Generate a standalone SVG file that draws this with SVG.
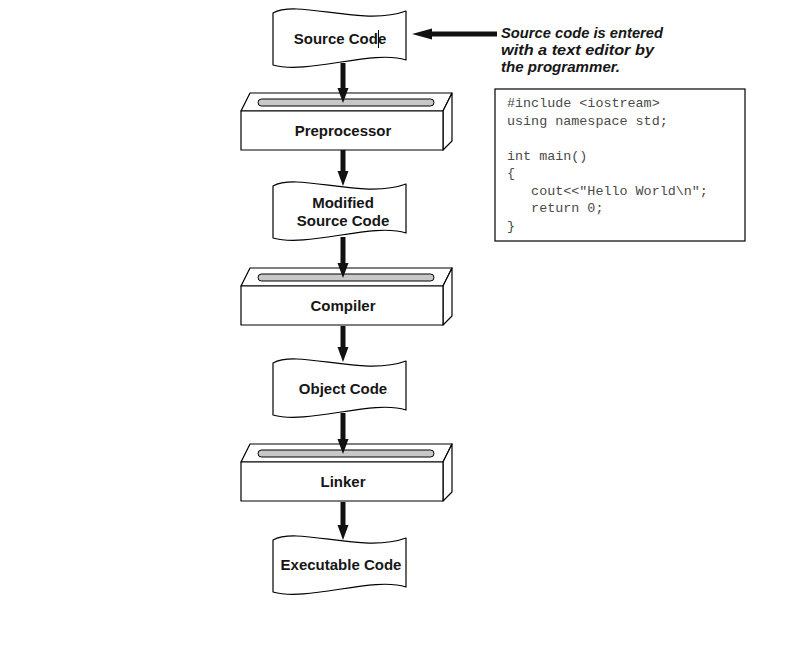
<svg xmlns="http://www.w3.org/2000/svg" width="796" height="645" viewBox="0 0 796 645">
<style>
.shape{fill:#fff;stroke:#000;stroke-width:1.2;stroke-linejoin:round}
.slot{fill:#c8c8c8;stroke:#000;stroke-width:1}
.lbl{font-family:"Liberation Sans",Arial,sans-serif;font-weight:bold;font-size:15px;fill:#161616;text-anchor:middle}
.note{font-family:"Liberation Sans",Arial,sans-serif;font-weight:bold;font-style:italic;font-size:15px;fill:#161616}
.code{font-family:"Liberation Mono","Courier New",monospace;font-size:13.4px;fill:#4a4a4a;white-space:pre}
.conn{stroke:#111;stroke-width:5;fill:none}
</style>
<defs>
<path id="doc" d="M0,4 C25,-10 90,18 133,2 L133,51 C100,40 35,66 0,56 Z"/>
<g id="box">
<polygon class="shape" points="0,18 9,0 211,0 202,18"/>
<polygon class="shape" points="202,18 211,0 211,48 202,57"/>
<rect class="shape" x="0" y="18" width="202" height="39"/>
<rect class="slot" x="17" y="6" width="176" height="7" rx="3.5"/>
</g>
<marker id="ah" markerUnits="userSpaceOnUse" markerWidth="16" markerHeight="12" refX="5" refY="5.5" orient="auto">
<path d="M0,0 L15,5.5 L0,11 Z" fill="#111"/>
</marker>
<marker id="ah2" markerUnits="userSpaceOnUse" markerWidth="22" markerHeight="12" refX="4" refY="5.5" orient="auto">
<path d="M0,0 L20,5.5 L0,11 Z" fill="#111"/>
</marker>
</defs>

<g id="source-code">
<use href="#doc" class="shape" transform="translate(273,9)"/>
<text class="lbl" x="340" y="44">Source Code</text>
<line x1="378.5" y1="30" x2="378.5" y2="48" stroke="#000" stroke-width="1"/>
</g>

<g id="preprocessor">
<use href="#box" transform="translate(241,93)"/>
<text class="lbl" x="343" y="136">Preprocessor</text>
</g>

<g id="modified-source-code">
<use href="#doc" class="shape" transform="translate(273,182)"/>
<text class="lbl" x="343" y="208">Modified</text>
<text class="lbl" x="343" y="226">Source Code</text>
</g>

<g id="compiler">
<use href="#box" transform="translate(241,268)"/>
<text class="lbl" x="343" y="311">Compiler</text>
</g>

<g id="object-code">
<use href="#doc" class="shape" transform="translate(273,359)"/>
<text class="lbl" x="343" y="394">Object Code</text>
</g>

<g id="linker">
<use href="#box" transform="translate(241,444)"/>
<text class="lbl" x="343" y="487">Linker</text>
</g>

<g id="executable-code">
<use href="#doc" class="shape" transform="translate(273,536)"/>
<text class="lbl" x="341" y="570">Executable Code</text>
</g>

<g id="note">
<text class="note" x="501" y="38" textLength="162" lengthAdjust="spacingAndGlyphs">Source code is entered</text>
<text class="note" x="501" y="55" textLength="153" lengthAdjust="spacingAndGlyphs">with a text editor by</text>
<text class="note" x="501" y="72" textLength="119" lengthAdjust="spacingAndGlyphs">the programmer.</text>
</g>

<g id="code-box">
<rect x="495" y="89" width="250" height="152" fill="#fff" stroke="#000" stroke-width="1.2"/>
<text class="code" x="507" y="107">#include &lt;iostream&gt;</text>
<text class="code" x="507" y="124.5">using namespace std;</text>
<text class="code" x="507" y="159.5">int main()</text>
<text class="code" x="507" y="177">{</text>
<text class="code" x="507" y="194.5">   cout&lt;&lt;"Hello World\n";</text>
<text class="code" x="507" y="212">   return 0;</text>
<text class="code" x="507" y="229.5">}</text>
</g>

<g id="connectors">
<line class="conn" x1="343" y1="63" x2="343" y2="93" marker-end="url(#ah)"/>
<line class="conn" x1="343" y1="150" x2="343" y2="176" marker-end="url(#ah)"/>
<line class="conn" x1="343" y1="237" x2="343" y2="268" marker-end="url(#ah)"/>
<line class="conn" x1="343" y1="326" x2="343" y2="352" marker-end="url(#ah)"/>
<line class="conn" x1="343" y1="413" x2="343" y2="444" marker-end="url(#ah)"/>
<line class="conn" x1="343" y1="502" x2="343" y2="530" marker-end="url(#ah)"/>
<line class="conn" x1="497" y1="34" x2="428" y2="34" stroke-width="4" marker-end="url(#ah2)"/>
</g>
</svg>
